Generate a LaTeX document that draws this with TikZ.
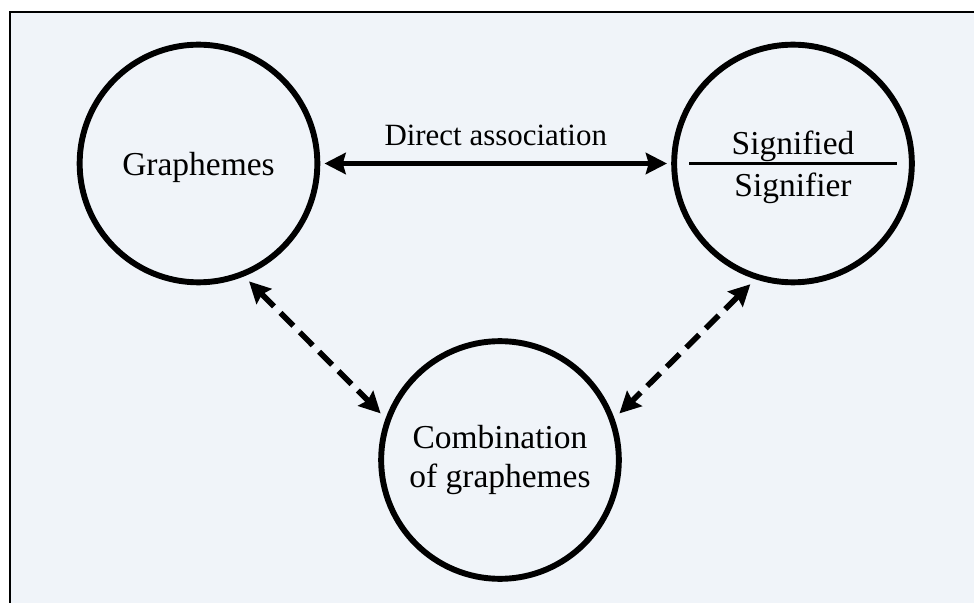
\documentclass[tikz,border=0pt]{standalone}
\usepackage{fontspec}
\setmainfont{Liberation Serif}
\usetikzlibrary{arrows.meta}
\definecolor{panelbg}{RGB}{240,244,249}

\begin{document}
\begin{tikzpicture}[x=0.025cm, y=-0.025cm,
    bubble/.style={draw, circle, line width=4.2pt, minimum size=169pt, inner sep=0pt,
        font=\fontsize{23.8}{28.4}\selectfont, align=center},
    caption/.style={font=\fontsize{23.8}{28.4}\selectfont},
    link/.style={line width=4pt, {Stealth[length=15pt, width=15pt, inset=2pt]}-{Stealth[length=15pt, width=15pt, inset=2pt]}},
    loose/.style={link, dash pattern=on 13pt off 6.5pt}]
    \useasboundingbox (0,0) rectangle (974,603);
    % Rahmen
    \fill[panelbg] (10,12) rectangle (974,603);
    \draw[line width=1.5pt] (10,603) -- (10,12) -- (974,12);

    % Kreise
    \node[bubble, text depth=0pt] (graph) at (198.5,163.5) {Graphemes};
    \node[bubble] (sig) at (793,163.5) {};
    \node[bubble] (comb) at (500,460) {Combination\\of graphemes};

    \node[caption, anchor=base] (sd) at (793,155) {Signified};
    \node[caption, anchor=base] (sr) at (793,197) {Signifier};
    \draw[line width=2pt] ([xshift=-104*0.025cm]sig.center) -- ([xshift=104*0.025cm]sig.center);

    % Verbindungen
    \draw[link, shorten <=3pt, shorten >=3pt] (graph.east) --
        node[above=7.6pt, font=\fontsize{22}{26}\selectfont] {Direct association} (sig.west);
    \draw[loose, shorten <=5pt, shorten >=5pt] (graph.-68) -- (comb.160.7);
    \draw[loose, shorten <=5pt, shorten >=5pt] (sig.-108) -- (comb.20);
\end{tikzpicture}
\end{document}
